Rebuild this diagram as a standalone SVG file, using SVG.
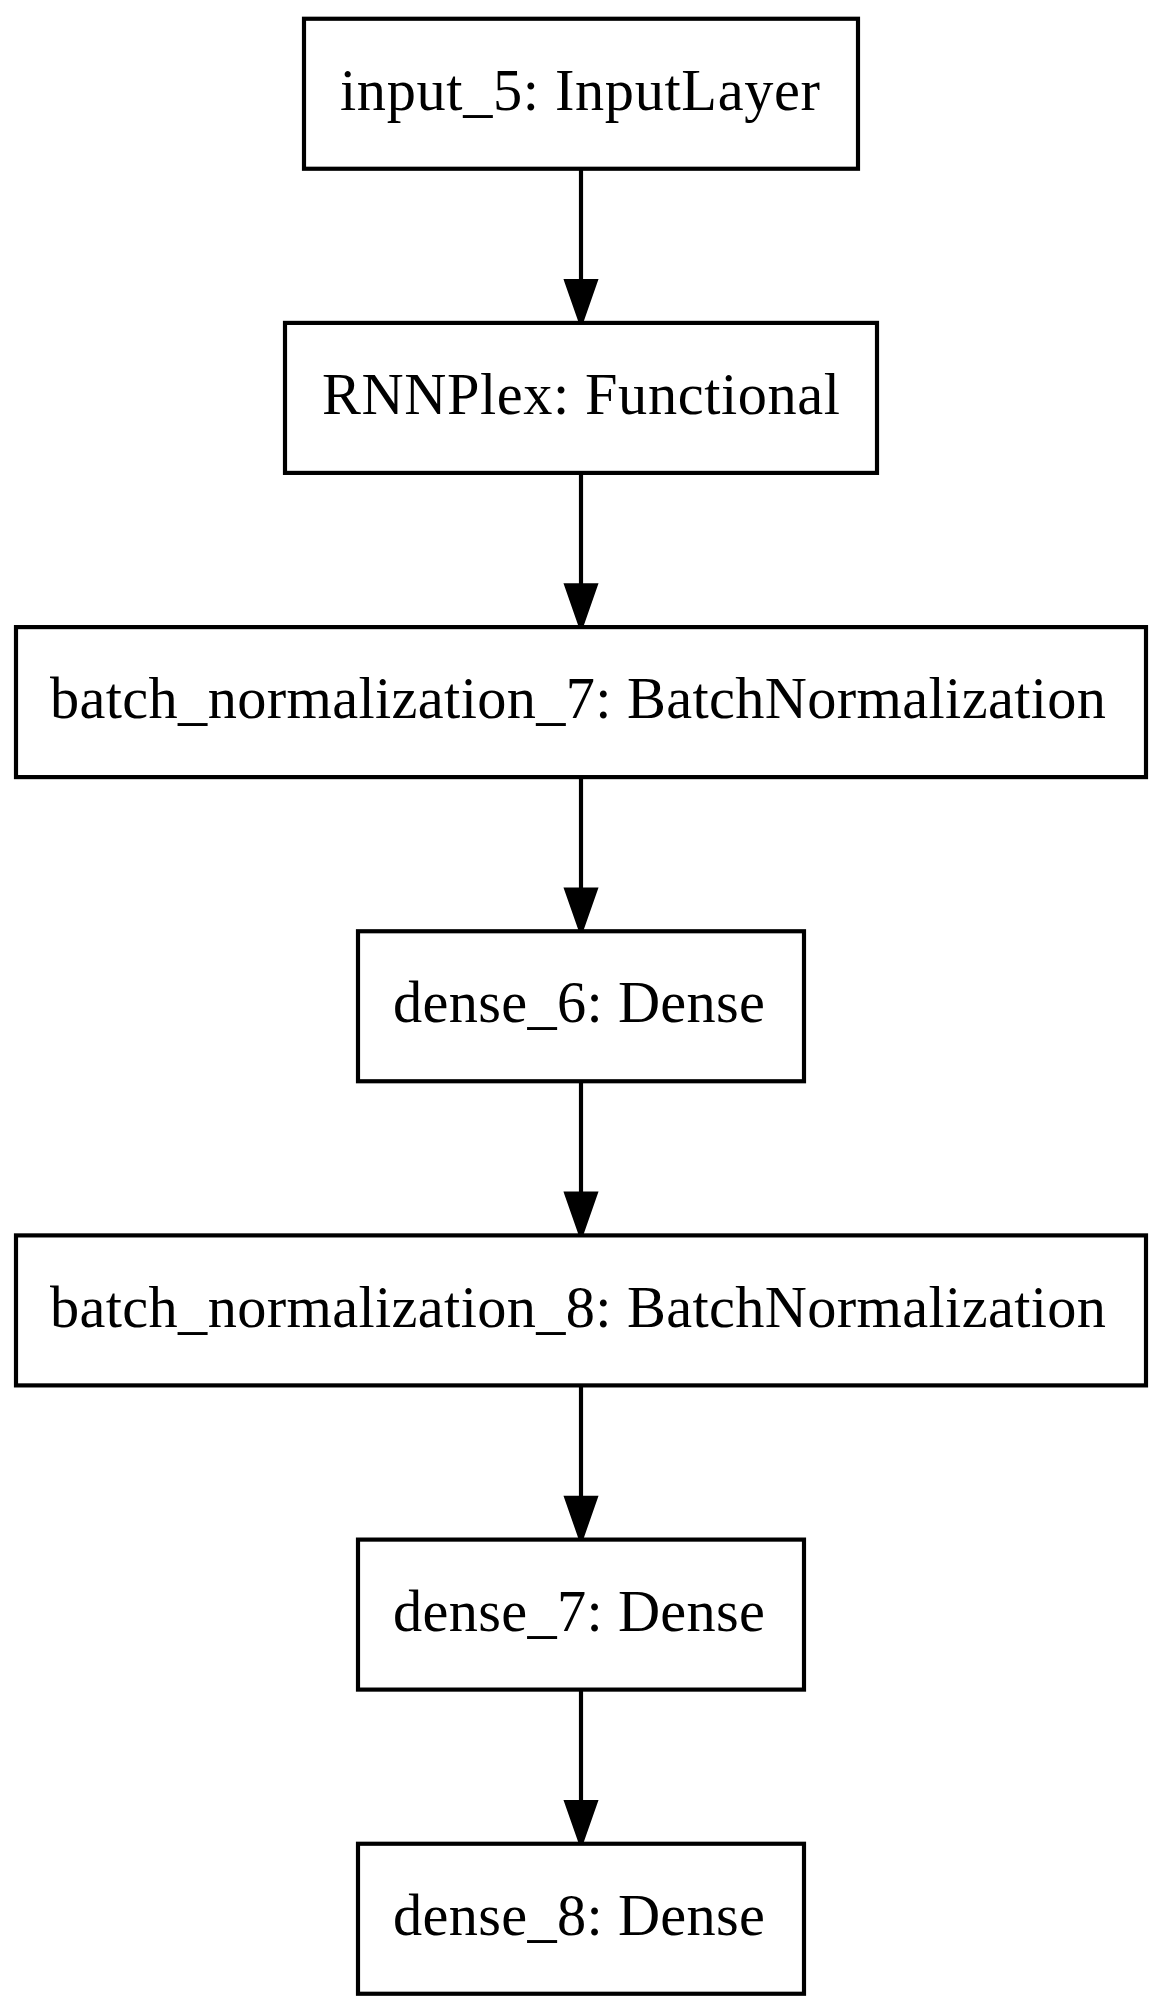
<svg xmlns="http://www.w3.org/2000/svg" width="1162" height="2012" viewBox="0 0 1162 2012">
<style>
.box{fill:#fff;stroke:#000;stroke-width:4.17}
.lbl{font-family:"Liberation Serif","Times New Roman",serif;font-size:58.33px;text-anchor:middle;fill:#000}
.edge{stroke:#000;stroke-width:4.17;fill:none}
.head{stroke:#000;stroke-width:4.17;fill:#000}
</style>
<rect width="1162" height="2012" fill="#fff"/>
<g id="connectors">
<line class="edge" x1="581" y1="168.75" x2="581" y2="281.2"/>
<polygon class="head" points="566.4,281.2 581,322.9 595.6,281.2"/>
<line class="edge" x1="581" y1="472.9" x2="581" y2="585.4"/>
<polygon class="head" points="566.4,585.4 581,627.1 595.6,585.4"/>
<line class="edge" x1="581" y1="777.1" x2="581" y2="889.55"/>
<polygon class="head" points="566.4,889.55 581,931.25 595.6,889.55"/>
<line class="edge" x1="581" y1="1081.25" x2="581" y2="1193.7"/>
<polygon class="head" points="566.4,1193.7 581,1235.4 595.6,1193.7"/>
<line class="edge" x1="581" y1="1385.4" x2="581" y2="1497.9"/>
<polygon class="head" points="566.4,1497.9 581,1539.6 595.6,1497.9"/>
<line class="edge" x1="581" y1="1689.6" x2="581" y2="1802.05"/>
<polygon class="head" points="566.4,1802.05 581,1843.75 595.6,1802.05"/>
</g>
<g id="input_5">
<rect class="box" x="304" y="18.75" width="554" height="150"/>
<text class="lbl" x="580" y="110" textLength="480" lengthAdjust="spacing">input_5: InputLayer</text>
</g>
<g id="RNNPlex">
<rect class="box" x="285" y="322.9" width="592" height="150"/>
<text class="lbl" x="581" y="414" textLength="518" lengthAdjust="spacing">RNNPlex: Functional</text>
</g>
<g id="batch_normalization_7">
<rect class="box" x="16" y="627.1" width="1130" height="150"/>
<text class="lbl" x="578" y="718.3" textLength="1056" lengthAdjust="spacing">batch_normalization_7: BatchNormalization</text>
</g>
<g id="dense_6">
<rect class="box" x="358" y="931.25" width="446" height="150"/>
<text class="lbl" x="579" y="1022.3" textLength="372" lengthAdjust="spacing">dense_6: Dense</text>
</g>
<g id="batch_normalization_8">
<rect class="box" x="16" y="1235.4" width="1130" height="150"/>
<text class="lbl" x="578" y="1326.6" textLength="1056" lengthAdjust="spacing">batch_normalization_8: BatchNormalization</text>
</g>
<g id="dense_7">
<rect class="box" x="358" y="1539.6" width="446" height="150"/>
<text class="lbl" x="579" y="1630.7" textLength="372" lengthAdjust="spacing">dense_7: Dense</text>
</g>
<g id="dense_8">
<rect class="box" x="358" y="1843.75" width="446" height="150"/>
<text class="lbl" x="579" y="1934.8" textLength="372" lengthAdjust="spacing">dense_8: Dense</text>
</g>
</svg>
